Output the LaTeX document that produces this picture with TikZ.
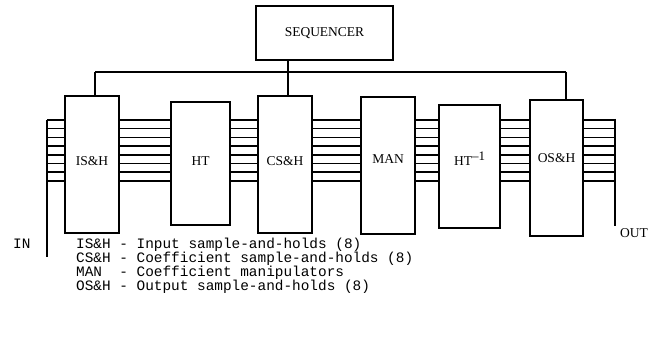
\documentclass[tikz,border=0pt]{standalone}
\usepackage{fontspec}
\setmainfont{Liberation Serif}
\newfontfamily\legendfont{Liberation Mono}
\begin{document}
\begin{tikzpicture}[x=1pt,y=-1pt,
  box/.style={draw, line width=1.6pt, rectangle, inner sep=0pt, font=\fontsize{13.5}{15}\selectfont},
  wire/.style={line width=1.6pt},
  lab/.style={font=\fontsize{13.5}{15}\selectfont, inner sep=0pt},
  legend/.style={anchor=base west, inner sep=0pt, text height=9pt, text depth=2.5pt, font=\legendfont\fontsize{14.4}{16}\selectfont}]
\useasboundingbox (0,0) rectangle (654,337);
% boxes
\node[box, minimum width=137pt, minimum height=54pt] (seq) at (324.5,33) {SEQUENCER};
\node[box, minimum width=54pt, minimum height=137pt, label={[lab,yshift=3.5pt]center:IS\&H}] (ish) at (92,164.5) {};
\node[box, minimum width=59pt, minimum height=123pt, label={[lab,yshift=2.5pt]center:HT}] (ht) at (200.5,163.5) {};
\node[box, minimum width=54pt, minimum height=137pt, label={[lab,yshift=3.5pt]center:CS\&H}] (csh) at (285,164.5) {};
\node[box, minimum width=54pt, minimum height=137pt, label={[lab,yshift=6.5pt]center:MAN}] (man) at (388,165.5) {};
\node[box, minimum width=61pt, minimum height=123pt, label={[lab,yshift=8pt]center:HT\raisebox{5pt}{\fontsize{13}{14}\selectfont\textendash1}}] (hti) at (469.5,166.5) {};
\node[box, minimum width=53pt, minimum height=136pt, label={[lab,yshift=10pt]center:OS\&H}] (osh) at (556.5,168) {};
% sequencer bus
\coordinate (busL) at (95,72);
\coordinate (busR) at (566,72);
\coordinate (seqdrop) at (288,60);
\draw[wire] (busL) -- (busR);
\draw[wire] (busL) -- (busL |- ish.north);
\draw[wire] (busR) -- (busR |- osh.north);
\draw[wire] (seqdrop) -- (seqdrop |- csh.north);
% input and output
\coordinate (intop) at (47,120);
\coordinate (inbot) at (47,257);
\coordinate (outtop) at (615,119);
\coordinate (outbot) at (615,226);
\draw[wire] (intop) -- (inbot);
\draw[wire] (outtop) -- (outbot);
% eight parallel lines
\foreach \i in {0,...,7}{
  \pgfmathsetmacro\yy{120+8.7*\i}
  \coordinate (r\i) at (0,\yy);
  \draw[wire] (intop |- r\i) -- (ish.west |- r\i);
  \draw[wire] (ish.east |- r\i) -- (ht.west |- r\i);
  \draw[wire] (ht.east |- r\i) -- (csh.west |- r\i);
  \draw[wire] (csh.east |- r\i) -- (man.west |- r\i);
  \draw[wire] (man.east |- r\i) -- (hti.west |- r\i);
  \draw[wire] (hti.east |- r\i) -- (osh.west |- r\i);
  \draw[wire] (osh.east |- r\i) -- (outtop |- r\i);
}
% labels
\node[anchor=base west, inner sep=0pt, font=\fontsize{13.5}{15}\selectfont] (out) at (620,237) {OUT};
\node[legend] (in) at (13,248) {IN};
\node[legend] (l1) at (76,248) {IS\&H - Input sample-and-holds (8)};
\node[legend] (l2) at (76,262) {CS\&H - Coefficient sample-and-holds (8)};
\node[legend] (l3) at (76,276) {MAN\ \ - Coefficient manipulators};
\node[legend] (l4) at (76,290) {OS\&H - Output sample-and-holds (8)};
\end{tikzpicture}
\end{document}
